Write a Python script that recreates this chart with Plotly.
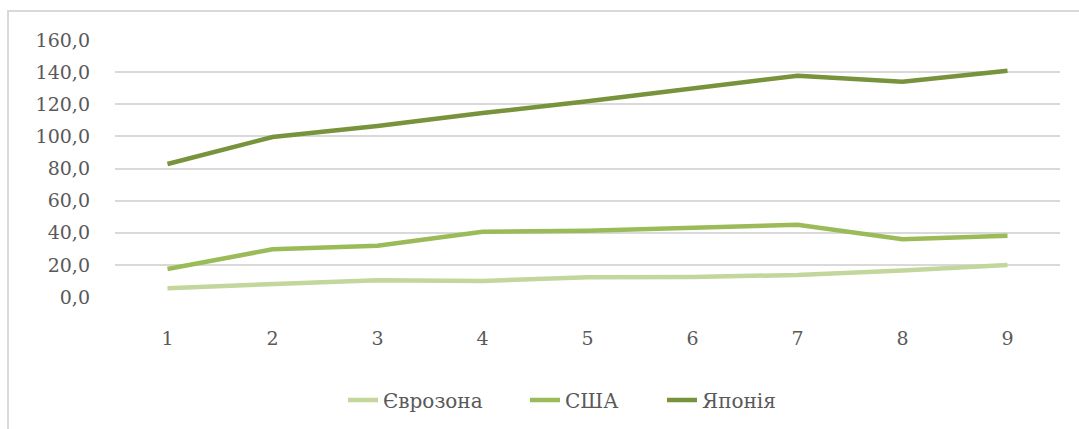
import plotly.graph_objects as go

categories = ["1", "2", "3", "4", "5", "6", "7", "8", "9"]
eurozone = [5.5, 8.0, 10.5, 10.0, 12.3, 12.5, 13.7, 16.5, 19.9]
usa = [17.4, 29.7, 31.9, 40.6, 41.3, 42.8, 45.0, 36.0, 38.2]
japan = [82.8, 99.6, 106.4, 114.5, 121.8, 129.5, 137.8, 134.0, 140.8]
series_names = ["Єврозона", "США", "Японія"]
colors = ["#C3D69B", "#9BBB59", "#77933C"]

W, H = 1079, 429
L, R, T, B = 115, 19, 40, 132
pw, ph = W - L - R, H - T - B
FONT = "DejaVu Serif"
legend_ids = ["legend", "legend2", "legend3"]
legend_left_px = [343, 525, 662]

fig = go.Figure()
for name, vals, col, lid in zip(series_names, [eurozone, usa, japan], colors, legend_ids):
    fig.add_trace(go.Scatter(
        x=categories, y=vals, name=name, mode="lines",
        line=dict(color=col, width=4.5), legend=lid,
    ))

legend_layout = {}
for lid, px in zip(legend_ids, legend_left_px):
    legend_layout[lid] = dict(
        orientation="h", x=(px - L) / pw, xanchor="left",
        y=(H - B - 400) / ph, yanchor="middle",
        font=dict(family=FONT, size=20, color="#595959"),
        bgcolor="rgba(0,0,0,0)",
    )

fig.update_layout(
    width=W, height=H,
    margin=dict(l=L, r=R, t=T, b=B, autoexpand=False),
    paper_bgcolor="white", plot_bgcolor="white",
    font=dict(family=FONT, size=19, color="#595959"),
    showlegend=True,
    xaxis=dict(
        type="category", range=[-0.5, 8.5],
        showgrid=False, zeroline=False, showline=False,
        ticks="", ticklabelstandoff=28,
        tickfont=dict(family=FONT, size=19, color="#595959"),
    ),
    yaxis=dict(
        range=[0, 160], dtick=20, tick0=0, tickformat=".1f",
        showgrid=True, gridcolor="#D9D9D9", gridwidth=1.5,
        zeroline=False, showline=False, ticks="", ticklabelstandoff=24,
        tickfont=dict(family=FONT, size=19, color="#595959"),
    ),
    separators=", ",
    shapes=[dict(
        type="rect", xref="paper", yref="paper",
        x0=(8 - L) / pw, x1=(W + 20 - L) / pw,
        y0=(H - B - (H + 20)) / ph, y1=(H - B - 11) / ph,
        line=dict(color="#D9D9D9", width=2), fillcolor="rgba(0,0,0,0)",
        layer="below",
    )],
    **legend_layout,
)

fig.write_html("out.html")
